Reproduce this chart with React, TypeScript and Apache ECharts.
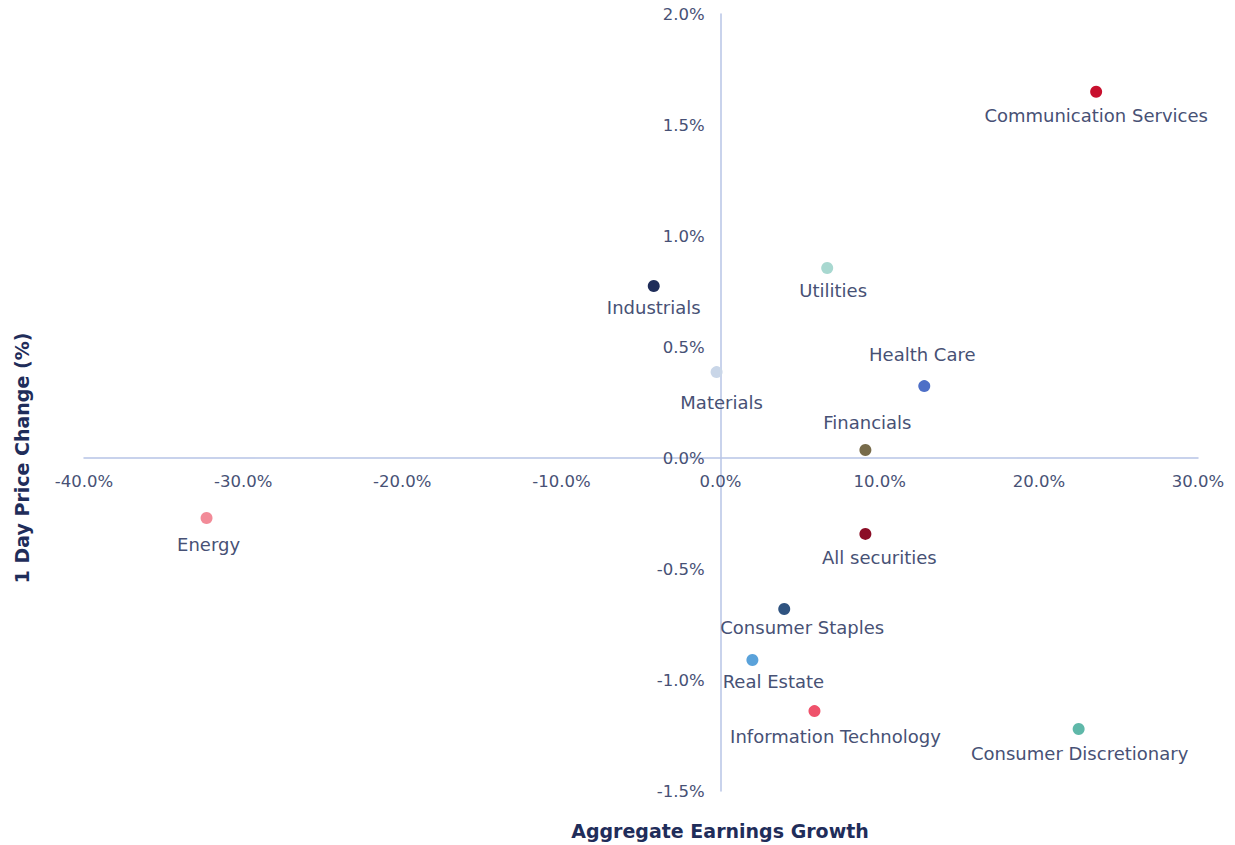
import React, { useEffect, useRef } from "react";
import * as echarts from "echarts";

const sectors = [
  "Communication Services",
  "Utilities",
  "Industrials",
  "Materials",
  "Health Care",
  "Financials",
  "Energy",
  "All securities",
  "Consumer Staples",
  "Real Estate",
  "Information Technology",
  "Consumer Discretionary",
];
const earningsGrowth = [23.6, 6.7, -4.2, -0.25, 12.8, 9.1, -32.3, 9.1, 4.0, 2.0, 5.9, 22.5];
const priceChange = [1.65, 0.856, 0.775, 0.387, 0.324, 0.036, -0.27, -0.342, -0.68, -0.91, -1.14, -1.221];
const colors = [
  "#c8102e", "#a8d8d0", "#1f2d5a", "#c9d6e8", "#4e6fc7", "#776b4a",
  "#f28b98", "#8b0d26", "#2f5380", "#5aa2da", "#ef526b", "#5fb8a9",
];
const xTicks = [-40, -30, -20, -10, 0, 10, 20, 30];
const yTicks = [-1.5, -1.0, -0.5, 0.0, 0.5, 1.0, 1.5, 2.0];

const labelPlacement: Record<string, { position: string; offset: number[] }> = {
  "Communication Services": { position: "bottom", offset: [0, 4] },
  Utilities: { position: "bottom", offset: [6, 3] },
  Industrials: { position: "bottom", offset: [0, 2] },
  Materials: { position: "bottom", offset: [5, 10] },
  "Health Care": { position: "top", offset: [-2, -12] },
  Financials: { position: "top", offset: [2, -8] },
  Energy: { position: "bottom", offset: [2, 7] },
  "All securities": { position: "bottom", offset: [14, 4] },
  "Consumer Staples": { position: "bottom", offset: [18, -1] },
  "Real Estate": { position: "bottom", offset: [21, 1] },
  "Information Technology": { position: "bottom", offset: [21, 5] },
  "Consumer Discretionary": { position: "bottom", offset: [1, 4] },
};

const FONT = "DejaVu Sans";
const LABEL = "#475175";
const AXIS = "#b7c4e6";
const TITLE = "#1f2d5a";

const W = 1235;
const H = 845;
const GRID = { left: 84, right: 37, top: 14, bottom: 54 };

export default function App() {
  const ref = useRef<HTMLDivElement>(null);
  useEffect(() => {
    if (!ref.current) return;
    const chart = echarts.init(ref.current, undefined, { renderer: "svg" });
    const xMin = xTicks[0];
    const xMax = xTicks[xTicks.length - 1];
    const yMin = yTicks[0];
    const yMax = yTicks[yTicks.length - 1];
    const gw = W - GRID.left - GRID.right;
    const gh = H - GRID.top - GRID.bottom;
    // shift axes so that they sit on the zero lines (labels included)
    const xAxisOffset = -((0 - yMin) / (yMax - yMin)) * gh;
    const yAxisOffset = -((0 - xMin) / (xMax - xMin)) * gw;
    const data = sectors.map((name, i) => ({
      name,
      value: [earningsGrowth[i], priceChange[i]],
      itemStyle: { color: colors[i], opacity: 1 },
      label: {
        show: true,
        formatter: name,
        position: labelPlacement[name].position as any,
        offset: labelPlacement[name].offset,
        color: LABEL,
        fontFamily: FONT,
        fontSize: 18,
      },
    }));
    chart.setOption({
      animation: false,
      grid: { ...GRID, containLabel: false },
      xAxis: {
        type: "value",
        min: xMin,
        max: xMax,
        interval: 10,
        offset: xAxisOffset,
        axisLine: { onZero: false, lineStyle: { color: AXIS, width: 1.5 } },
        axisTick: { show: false },
        splitLine: { show: false },
        axisLabel: {
          color: LABEL,
          fontFamily: FONT,
          fontSize: 16.5,
          margin: 15,
          formatter: (v: number) => v.toFixed(1) + "%",
        },
      },
      yAxis: {
        type: "value",
        min: yMin,
        max: yMax,
        interval: 0.5,
        offset: yAxisOffset,
        axisLine: { show: true, onZero: false, lineStyle: { color: AXIS, width: 1.5 } },
        axisTick: { show: false },
        splitLine: { show: false },
        axisLabel: {
          color: LABEL,
          fontFamily: FONT,
          fontSize: 16.5,
          margin: 16,
          formatter: (v: number) => v.toFixed(1) + "%",
        },
      },
      graphic: [
        {
          type: "text",
          x: 720,
          y: 831,
          style: {
            text: "Aggregate Earnings Growth",
            fill: TITLE,
            font: `bold 19px "${FONT}"`,
            align: "center",
            verticalAlign: "middle",
          },
        },
        {
          type: "text",
          x: 22,
          y: 458,
          rotation: Math.PI / 2,
          style: {
            text: "1 Day Price Change (%)",
            fill: TITLE,
            font: `bold 19px "${FONT}"`,
            align: "center",
            verticalAlign: "middle",
          },
        },
      ],
      series: [
        {
          type: "scatter",
          symbolSize: 12,
          itemStyle: { opacity: 1 },
          data,
        },
      ],
    });
    return () => chart.dispose();
  }, []);
  return <div ref={ref} style={{ width: W, height: H, position: "absolute", left: 0, top: 0 }} />;
}
